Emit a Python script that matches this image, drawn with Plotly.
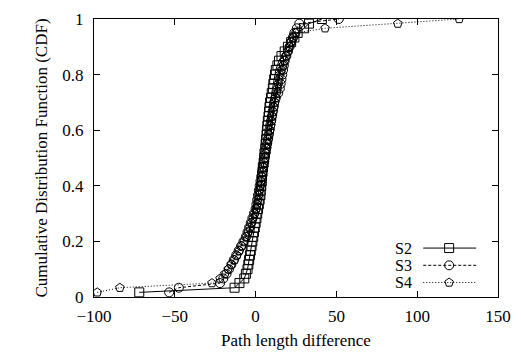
import plotly.graph_objects as go

# Path length differences (sorted samples) for each scheme
s2_values = [-72, -13, -10, -7, -6, -5, -4.5, -4, -3.5, -3, -2.5, -2, -1.5, -1, -0.5, 0,
             0.5, 1, 1.5, 2, 2.5, 3, 3.2, 3.5, 3.8, 4, 4.3, 4.5, 5, 5.3, 5.5, 6, 6.2, 6.5,
             6.8, 7, 7.3, 7.6, 8, 8.3, 8.6, 9, 9.5, 10, 10.7, 11, 11.5, 12, 12.5, 13.5,
             14.5, 16, 18, 20, 22, 24, 26, 30, 33, 41]
s3_values = [-53.5, -47.5, -22, -20, -18, -16.5, -15, -13.5, -12, -10.5, -9, -7.5, -6, -5,
             -4, -3, -2, -1, 0, 0.5, 1, 1.5, 2, 2.5, 3, 3.5, 4, 4.5, 5, 5.5, 6, 6.5, 7, 7.5,
             8, 8.5, 9, 9.5, 10, 10.5, 11, 11.5, 12.5, 14, 15, 15.5, 16, 16.5, 17, 17.5, 18,
             19, 20, 21, 22, 23, 24, 25.5, 27, 51.5]
s4_values = [-98, -84, -27, -22, -19, -17, -15, -13, -11.5, -10, -8.5, -7, -5.5, -4.5, -3.5,
             -2.5, -1.5, -0.5, 0.5, 1, 1.5, 2, 2.5, 3, 3.5, 4, 4.5, 5, 5.5, 6, 6.5, 7, 7.5, 8,
             8.5, 9, 9.5, 10, 10.5, 11, 11.5, 12, 12.5, 13, 13.5, 14, 14.5, 15, 16, 17, 18,
             19, 20, 21, 22, 23.5, 25, 43, 88, 126]

series_names = ["S2", "S3", "S4"]
x_ticks = [-100, -50, 0, 50, 100, 150]
y_ticks = [0, 0.2, 0.4, 0.6, 0.8, 1]
y_tick_labels = ["0", "0.2", "0.4", "0.6", "0.8", "1"]


def ecdf(vals):
    v = sorted(vals)
    n = len(v)
    return v, [(i + 1) / n for i in range(n)]


FONT = "Times New Roman, DejaVu Serif"
FS = 17
styles = [
    dict(symbol="square-open", dash="solid"),
    dict(symbol="circle-open", dash="3px,2px"),
    dict(symbol="pentagon-open", dash="1px,2px"),
]

fig = go.Figure()
for name, vals, st in zip(series_names, [s2_values, s3_values, s4_values], styles):
    xs, ys = ecdf(vals)
    fig.add_trace(go.Scatter(
        x=xs, y=ys, mode="lines+markers", name=name, showlegend=False,
        line=dict(color="black", width=1, dash=st["dash"]),
        marker=dict(symbol=st["symbol"], size=9, color="black", line=dict(width=1, color="black")),
    ))

# custom gnuplot-style legend (text left, sample right) on a hidden overlay axis
leg_rows = [0.176, 0.114, 0.052]
for name, st, yy in zip(series_names, styles, leg_rows):
    fig.add_trace(go.Scatter(
        x=[0.815, 0.946], y=[yy, yy], xaxis="x2", yaxis="y2", mode="lines", showlegend=False,
        line=dict(color="black", width=1, dash=st["dash"]), hoverinfo="skip"))
    fig.add_trace(go.Scatter(
        x=[0.879], y=[yy], xaxis="x2", yaxis="y2", mode="markers", showlegend=False,
        marker=dict(symbol=st["symbol"], size=9, color="black", line=dict(width=1, color="black")),
        hoverinfo="skip"))
    fig.add_annotation(x=0.79, y=yy, xref="x2", yref="y2", text=name, showarrow=False,
                       xanchor="right", yanchor="middle", borderpad=0,
                       font=dict(family=FONT, size=16, color="black"))

axis_common = dict(showline=True, linecolor="black", linewidth=1, mirror="allticks",
                   ticks="inside", ticklen=6, tickcolor="black", showgrid=False, zeroline=False,
                   tickfont=dict(family=FONT, size=FS, color="black"))

fig.update_layout(
    width=521, height=356,
    margin=dict(l=94, r=22, t=10, b=57),
    paper_bgcolor="white", plot_bgcolor="white",
    font=dict(family=FONT, size=FS, color="black"),
    xaxis=dict(range=[-100, 150], tickvals=x_ticks, title=dict(text="Path length difference",
               font=dict(family=FONT, size=FS), standoff=8), ticklabelstandoff=4, **axis_common),
    yaxis=dict(range=[0, 1], tickvals=y_ticks, ticktext=y_tick_labels,
               title=dict(text="Cumulative Distribution Function (CDF)", font=dict(family=FONT, size=FS),
                          standoff=10), ticklabelstandoff=6, **axis_common),
    xaxis2=dict(range=[0, 1], overlaying="x", visible=False),
    yaxis2=dict(range=[0, 1], overlaying="y", visible=False),
)

fig.write_html("out.html")
